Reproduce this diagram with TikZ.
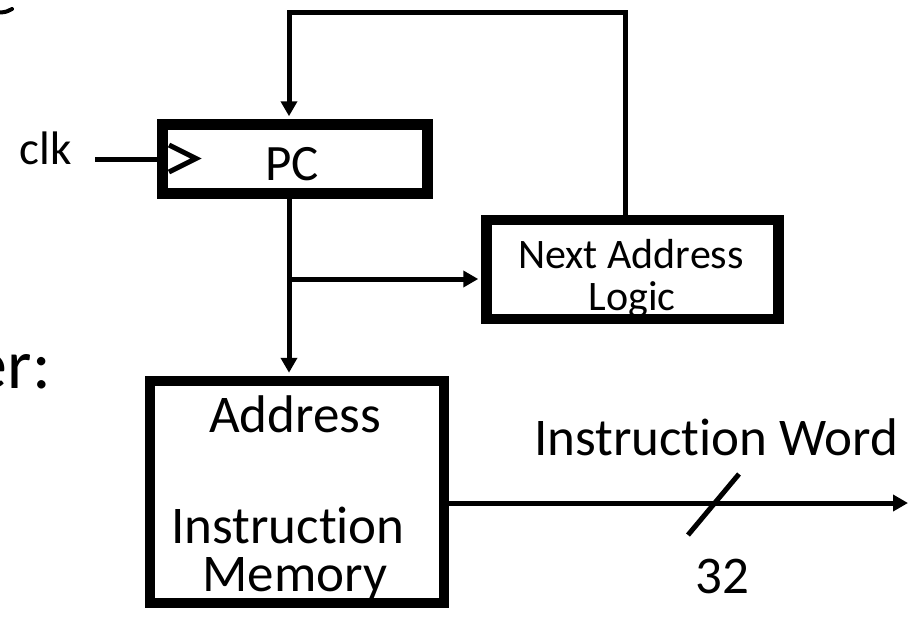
\documentclass[tikz,border=0pt]{standalone}
\usepackage{fontspec}
\setmainfont{Carlito}[Ligatures=NoCommon]
\usetikzlibrary{arrows.meta,calc}
\begin{document}
\begin{tikzpicture}[x=1pt,y=-1pt,
  box/.style={draw,line width=10.5pt,inner sep=0pt},
  wire/.style={line width=5pt},
  arr/.style={wire,-{Triangle[width=16pt,length=15pt]},shorten >=3pt},
  big/.style={font=\fontsize{53}{60}\selectfont,inner sep=0pt,anchor=base},
  mid/.style={font=\fontsize{42}{48}\selectfont,inner sep=0pt,anchor=base},
  clkf/.style={font=\fontsize{47}{54}\selectfont,inner sep=0pt,anchor=base}]
\useasboundingbox (0,0) rectangle (908,633);
% boxes
\node[box,minimum width=265pt,minimum height=69pt] (PC) at (295,159) {};
\node[box,minimum width=292pt,minimum height=99pt] (NAL) at (632.5,269.5) {};
\node[box,minimum width=294pt,minimum height=222pt] (IM) at (297,492) {};
% texts
\node[big,font=\fontsize{51}{58}\selectfont] (pct) at (292,180) {PC};
\node[mid] (nal1) at (631,268) {Next Address};
\node[mid] (nal2) at (632,310) {Logic};
\node[big] (imA) at (295,432) {Address};
\node[big] (imI) at (288,543) {Instruction};
\node[big] (imM) at (295,591) {Memory};
\node[big] (iw) at (716,455) {Instruction Word};
\node[big] (n32) at (722,593) {32};
\node[clkf] (clk) at (46,164) {clk};
\node[font=\fontsize{70}{80}\selectfont,inner sep=0pt,anchor=base east] (er) at (51,388) {er:};
% clock
\coordinate (clkin) at (95,159);
\draw[wire] (clkin) -- (clkin -| PC.west);
\draw[wire,line join=miter] (169,145) -- (196,158.5) -- (169,172);
% taps
\coordinate (tap) at (289,279);
\draw[arr] (tap |- PC.south) -- (tap |- IM.north);
\draw[arr] (tap) -- (tap -| NAL.west);
% feedback
\coordinate (fbR) at (625.5,12.5);
\draw[arr] (fbR |- NAL.north) -- (fbR) -- (fbR -| tap) -- (tap |- PC.north);
% output
\coordinate (outE) at (908,503);
\draw[arr,shorten >=0pt] (IM.east |- outE) -- (outE);
\coordinate (sl1) at (688,535);
\coordinate (sl2) at (739,474);
\draw[wire] (sl1) -- (sl2);
% fragment at top left
\draw[line width=4pt,line cap=round] (0,12.5) .. controls (6,12) .. (12,9);
\end{tikzpicture}
\end{document}
